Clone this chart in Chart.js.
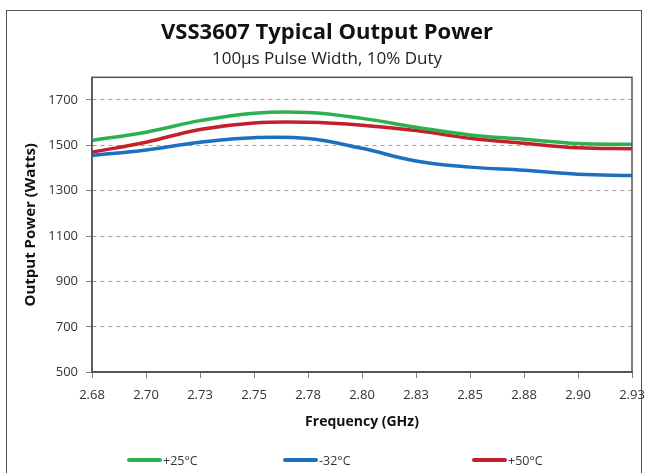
<!DOCTYPE html>
<html>
<head>
<meta charset="utf-8">
<script src="https://cdn.jsdelivr.net/npm/chart.js@4/dist/chart.umd.min.js"></script>
<style>
  html, body { margin: 0; padding: 0; background: #fff; }
  #wrap { position: relative; width: 650px; height: 473px; overflow: hidden; }
  #frame { position: absolute; left: 6px; top: 10px; width: 636px; height: 480px; border: 1px solid #555; box-sizing: border-box; }
  #chartBox { position: absolute; left: 0; top: 0; width: 650px; height: 473px; }
  #legend { position: absolute; left: 0; top: 451px; width: 650px; height: 18px;
            font-family: 'Open Sans', sans-serif; font-size: 12.5px; color: #333; }
  .item { position: absolute; top: 0; display: flex; align-items: center; height: 18px; }
  .swatch { width: 35px; height: 4px; border-radius: 2px; margin-right: 1px; }
</style>
</head>
<body>
<div id="wrap">
  <div id="frame"></div>
  <div id="chartBox"><canvas id="powerChart"></canvas></div>
  <div id="legend"></div>
</div>
<script>
// ---- data ----
const freqLabels = ['2.68', '2.70', '2.73', '2.75', '2.78', '2.80', '2.83', '2.85', '2.88', '2.90', '2.93'];
const power25 = [1522, 1558, 1609, 1642, 1645, 1619, 1580, 1546, 1527, 1508, 1505];
const powerMinus32 = [1455, 1480, 1514, 1534, 1530, 1487, 1431, 1404, 1390, 1373, 1367];
const power50 = [1470, 1514, 1570, 1599, 1602, 1589, 1565, 1531, 1509, 1489, 1485];
const yTicks = [500, 700, 900, 1100, 1300, 1500, 1700];

const FONT = "'Open Sans', sans-serif";

// box around the plot area (top + right edges)
const plotFrame = {
    id: 'plotFrame',
    afterDatasetsDraw(chart) {
        const { ctx, chartArea: a } = chart;
        ctx.save();
        ctx.strokeStyle = '#555';
        ctx.lineWidth = 1.5;
        ctx.strokeRect(a.left, a.top, a.right - a.left, a.bottom - a.top);
        ctx.restore();
    }
};

function makeSeries(label, data, color) {
    return {
        label: label,
        data: data,
        borderColor: color,
        backgroundColor: color,
        borderWidth: 3.5,
        pointRadius: 0,
        tension: 0.4,
        fill: false
    };
}

const ctx = document.getElementById('powerChart').getContext('2d');
const chart = new Chart(ctx, {
    type: 'line',
    data: {
        labels: freqLabels,
        datasets: [
            makeSeries('+25°C', power25, '#2db04e'),
            makeSeries('-32°C', powerMinus32, '#1c70bf'),
            makeSeries('+50°C', power50, '#c4202b')
        ]
    },
    options: {
        responsive: true,
        maintainAspectRatio: false,
        animation: false,
        layout: { padding: { left: 22, right: 18, top: 0, bottom: 43 } },
        plugins: {
            legend: { display: false },
            tooltip: { enabled: false },
            title: {
                display: true,
                text: 'VSS3607 Typical Output Power',
                color: '#111',
                font: { family: FONT, size: 22, weight: 'bold' },
                padding: { top: 20, bottom: 3 }
            },
            subtitle: {
                display: true,
                text: '100µs Pulse Width, 10% Duty',
                color: '#222',
                font: { family: FONT, size: 17 },
                padding: { top: 0, bottom: 7.5 }
            }
        },
        scales: {
            x: {
                type: 'category',
                offset: false,
                // let the end labels hang over the plot edges like the original
                afterFit(scale) { scale.paddingLeft = 0; scale.paddingRight = 0; },
                grid: { drawOnChartArea: false, tickLength: 6, tickColor: '#808080' },
                border: { color: '#555', width: 1.5 },
                ticks: { color: '#333', font: { family: FONT, size: 13, lineHeight: 1 }, padding: 11, maxRotation: 0, autoSkip: false },
                title: {
                    display: true,
                    text: 'Frequency (GHz)',
                    color: '#111',
                    font: { family: FONT, size: 14, weight: 'bold' },
                    padding: { top: 0, bottom: 0 }
                }
            },
            y: {
                min: 500,
                max: 1800,
                afterBuildTicks(scale) { scale.ticks = yTicks.map(v => ({ value: v })); },
                afterFit(scale) { scale.width = 70; },
                grid: { color: '#a0a0a0', tickColor: '#808080', tickBorderDash: [], tickLength: 6 },
                border: { color: '#555', width: 1.5, dash: [4, 4] },
                ticks: {
                    color: '#333',
                    font: { family: FONT, size: 13 },
                    padding: 8,
                    callback: v => String(v)
                },
                title: {
                    display: true,
                    text: 'Output Power (Watts)',
                    color: '#111',
                    font: { family: FONT, size: 15, weight: 'bold' },
                    padding: 0
                }
            }
        }
    },
    plugins: [plotFrame]
});

// html legend built from the chart datasets
const legendLeft = [127, 283, 472];
document.getElementById('legend').innerHTML = chart.data.datasets.map((ds, i) => `
    <div class="item" style="left:${legendLeft[i]}px"><span class="swatch" style="background:${ds.borderColor}"></span>${ds.label}</div>
`).join('');
</script>
</body>
</html>
